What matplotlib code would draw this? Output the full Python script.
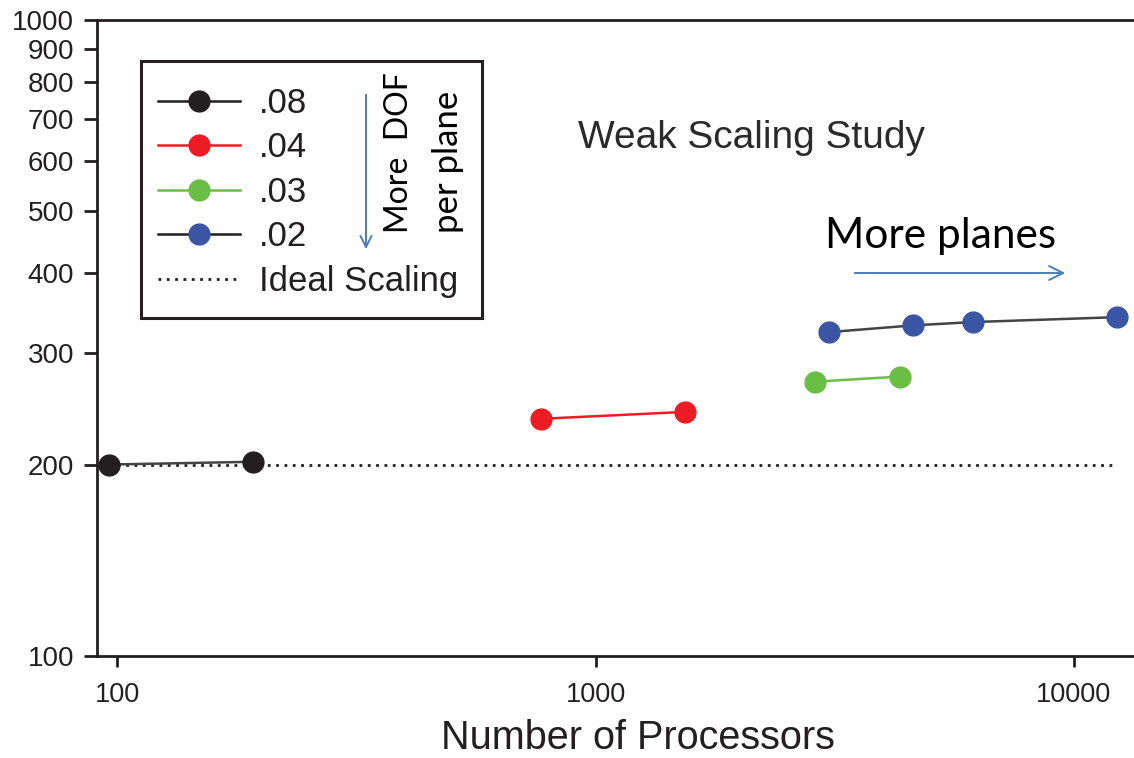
import matplotlib
matplotlib.use("Agg")
import matplotlib.pyplot as plt
from matplotlib.lines import Line2D
from matplotlib.patches import Rectangle, FancyArrowPatch
from matplotlib.ticker import FixedLocator, FixedFormatter, NullLocator

# data (processors, time)
procs_08 = [96, 192]
time_08 = [200, 202]
procs_04 = [768, 1536]
time_04 = [236, 242]
procs_03 = [2880, 4320]
time_03 = [270, 275]
procs_02 = [3072, 4608, 6144, 12288]
time_02 = [323, 331, 335, 341]
ideal_procs = [96, 12288]
ideal_time = [200, 200]

series_labels = [".08", ".04", ".03", ".02"]
y_ticks = [100, 200, 300, 400, 500, 600, 700, 800, 900, 1000]
x_ticks = [100, 1000, 10000]

W, H = 1134, 758
BLACK = "#231f20"
RED = "#ed1c24"
GREEN = "#6abd45"
BLUE = "#3a55a4"
ARROW = "#4a7ebb"


def fx(px):
    return px / W


def fy(py):
    return 1 - py / H


plt.rcParams["font.family"] = ["Liberation Sans", "DejaVu Sans"]

fig = plt.figure(figsize=(W / 100, H / 100), dpi=100)
ax = fig.add_axes([fx(97), fy(656), 1 - fx(97), fy(20) - fy(656)])

ms = 15
ax.plot(ideal_procs, ideal_time, color=BLACK, lw=2, ls=(0, (1, 2)), zorder=1)
ax.plot(procs_08, time_08, "-o", color="#444444", mfc=BLACK, mec=BLACK, ms=ms, lw=1.8, zorder=3)
ax.plot(procs_04, time_04, "-o", color=RED, mfc=RED, mec=RED, ms=ms, lw=1.8, zorder=3)
ax.plot(procs_03, time_03, "-o", color=GREEN, mfc=GREEN, mec=GREEN, ms=ms, lw=1.8, zorder=3)
ax.plot(procs_02, time_02, "-o", color="#444444", mfc=BLUE, mec=BLUE, ms=ms, lw=1.8, zorder=3)

ax.set_xscale("log")
ax.set_yscale("log")
ax.set_xlim(90.8, 13350)
ax.set_ylim(100, 1000)

ax.yaxis.set_major_locator(FixedLocator(y_ticks))
ax.yaxis.set_major_formatter(FixedFormatter([str(v) for v in y_ticks]))
ax.yaxis.set_minor_locator(NullLocator())
ax.xaxis.set_major_locator(FixedLocator(x_ticks))
ax.xaxis.set_major_formatter(FixedFormatter([str(v) for v in x_ticks]))
ax.xaxis.set_minor_locator(NullLocator())

ax.tick_params(axis="y", direction="out", length=9.4, width=2, labelsize=20, pad=7, colors=BLACK)
ax.tick_params(axis="x", direction="out", length=8, width=2, labelsize=19.5, pad=11, colors=BLACK)
for side in ["left", "top", "bottom"]:
    ax.spines[side].set_linewidth(2)
    ax.spines[side].set_color(BLACK)
ax.spines["right"].set_visible(False)

# x label
fig.text(fx(638), fy(749), "Number of Processors", fontsize=28.5, color=BLACK,
         ha="center", va="baseline")

# title inside the plot
fig.text(fx(751), fy(148), "Weak Scaling Study", fontsize=28, color="#2a2a2a",
         ha="center", va="baseline")

# legend
handles = [
    Line2D([], [], color=BLACK, lw=1.8, marker="o", ms=ms, mfc=BLACK, mec=BLACK),
    Line2D([], [], color=RED, lw=1.8, marker="o", ms=ms, mfc=RED, mec=RED),
    Line2D([], [], color=GREEN, lw=1.8, marker="o", ms=ms, mfc=GREEN, mec=GREEN),
    Line2D([], [], color=BLACK, lw=1.8, marker="o", ms=ms, mfc=BLUE, mec=BLUE),
    Line2D([], [], color=BLACK, lw=2, ls=(0, (1, 2))),
]
leg = fig.legend(handles, series_labels + ["Ideal Scaling"], loc="upper left",
                 bbox_to_anchor=(fx(158), fy(87)), frameon=False, fontsize=25,
                 handlelength=2.35, handletextpad=0.55, labelspacing=0.33,
                 borderpad=0, borderaxespad=0)
for t in leg.get_texts():
    t.set_color(BLACK)

fig.patches.append(Rectangle((fx(141), fy(318)), fx(482) - fx(141), fy(61) - fy(318),
                             transform=fig.transFigure, fill=False, ec=BLACK, lw=2.2,
                             zorder=5))

# "More DOF per plane" arrow and text
fig.add_artist(FancyArrowPatch(
    (fx(366), fy(92)), (fx(366), fy(252)), transform=fig.transFigure,
    arrowstyle="->,head_length=8,head_width=4", color=ARROW, lw=1.4))
fig.text(fx(399), fy(233), "More  DOF", family=["Lato", "DejaVu Sans"], fontsize=23,
         rotation=90, ha="center", va="bottom", color="black")
fig.text(fx(448), fy(233), "per plane", family=["Lato", "DejaVu Sans"], fontsize=25,
         rotation=90, ha="center", va="bottom", color="black")

# "More planes" arrow and text
fig.text(fx(825), fy(248), "More planes", family=["Lato", "DejaVu Sans"], fontsize=30.5,
         ha="left", va="baseline", color="black")
fig.add_artist(FancyArrowPatch(
    (fx(852), fy(273)), (fx(1068), fy(273)), transform=fig.transFigure,
    arrowstyle="->,head_length=10,head_width=5", color=ARROW, lw=1.4))

fig.savefig("out.png", dpi=100)
